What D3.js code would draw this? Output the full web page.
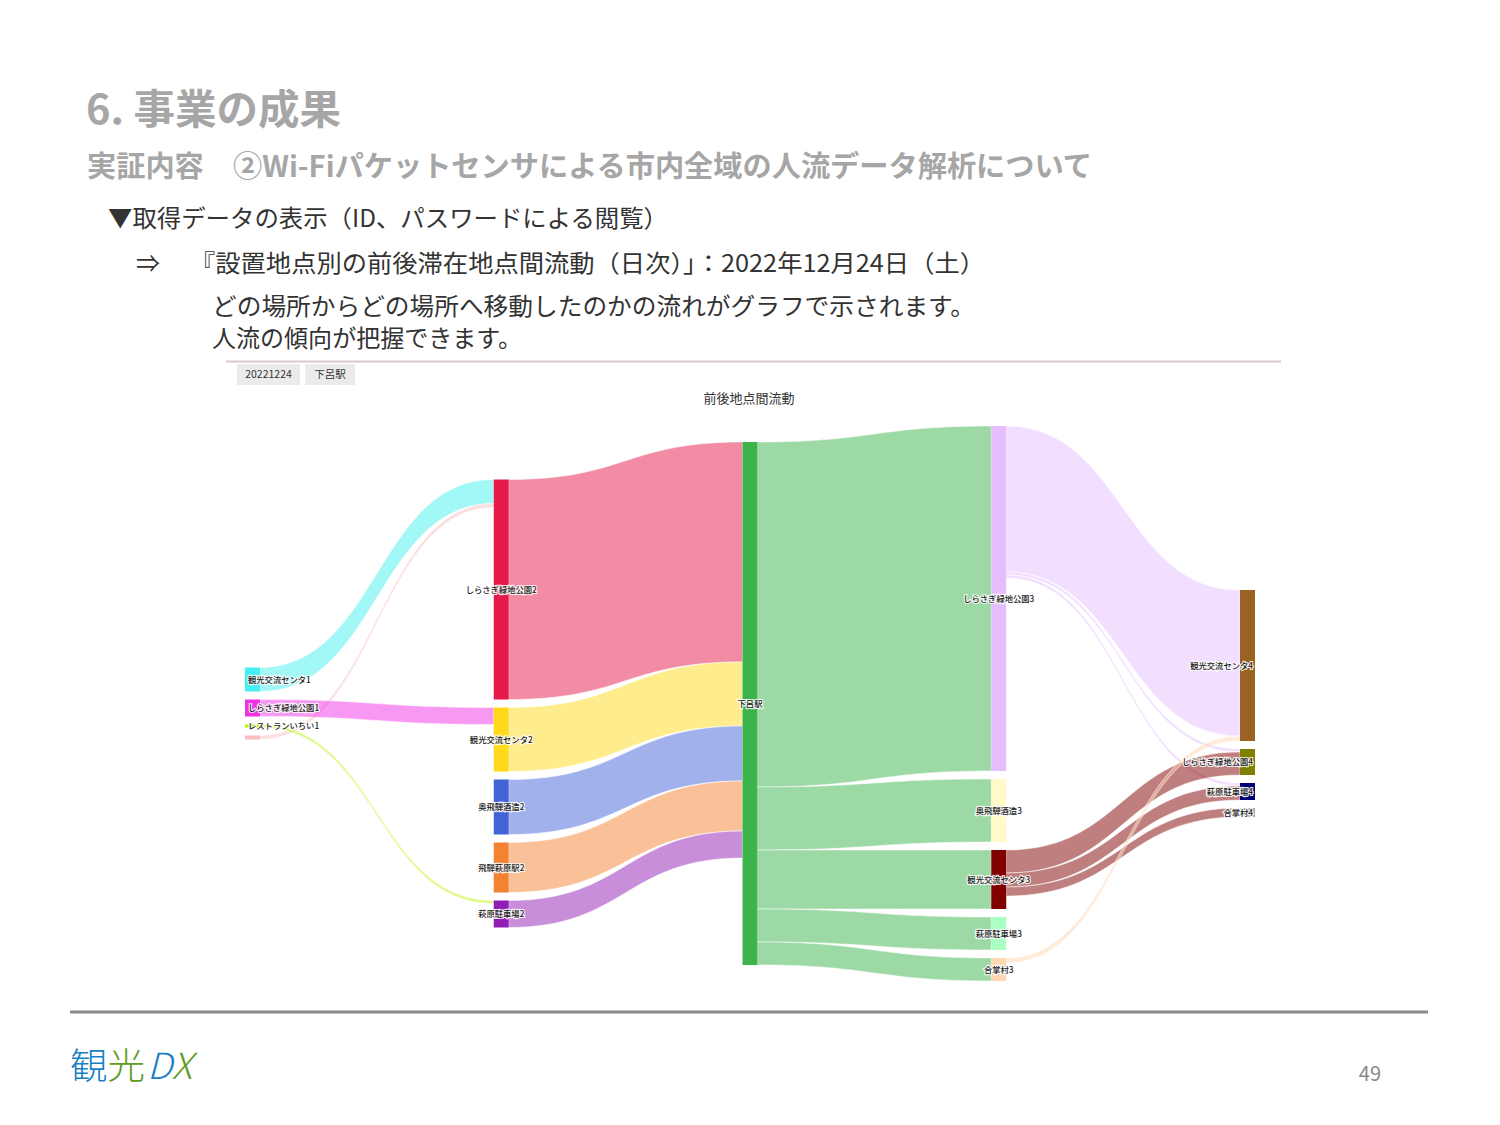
<!DOCTYPE html>
<html>
<head>
<meta charset="utf-8">
<title>前後地点間流動</title>
<script src="https://cdn.jsdelivr.net/npm/d3@7"></script>
<style>
    body { margin: 0; background: #fff; }
    svg { display: block; font-family: "Noto Sans CJK JP", "Noto Sans", sans-serif; }
    .node-label {
        font-size: 8.3px;
        font-weight: 500;
        fill: #1a1a1a;
        stroke: #fff;
        stroke-width: 2.2px;
        stroke-opacity: 0.9;
        paint-order: stroke;
    }
</style>
</head>
<body>
<svg id="slide"></svg>
<script>
// nodes (label / colour / column), in plotly order
const nodeLabels = [
    "観光交流センタ1", "しらさぎ緑地公園1", "レストランいちい1", "",
    "しらさぎ緑地公園2", "観光交流センタ2", "奥飛騨酒造2", "飛騨萩原駅2", "萩原駐車場2",
    "下呂駅",
    "しらさぎ緑地公園3", "奥飛騨酒造3", "観光交流センタ3", "萩原駐車場3", "合掌村3",
    "観光交流センタ4", "しらさぎ緑地公園4", "萩原駐車場4", "合掌村4"
];
const nodeColumns = [0, 0, 0, 0, 1, 1, 1, 1, 1, 2, 3, 3, 3, 3, 3, 4, 4, 4, 4];
const nodeColors = [
    "#46f0f0", "#f032e6", "#bcf60c", "#fabebe",
    "#e6194b", "#ffd91a", "#4363d8", "#f58231", "#911eb4",
    "#3cb44b",
    "#e6beff", "#fffac8", "#800000", "#aaffc3", "#ffd8b1",
    "#9a6324", "#808000", "#000075", "#a9a9a9"
];

// links
const linkSources = [0, 3, 1, 2, 4, 5, 6, 7, 8, 9, 9, 9, 9, 9, 10, 10, 10, 12, 12, 12, 14];
const linkTargets = [4, 4, 5, 8, 9, 9, 9, 9, 9, 10, 11, 12, 13, 14, 15, 16, 17, 16, 17, 18, 15];
const linkValues  = [48, 8, 34, 6, 440, 128, 110, 100, 54, 690, 126, 118, 66, 46, 292, 6, 6, 46, 28, 18, 10];

const tabLabels = ["20221224", "下呂駅"];
const chartTitle = "前後地点間流動";

const W = 1500, H = 1125;
const svg = d3.select("#slide").attr("width", W).attr("height", H);

// ---- slide header text
svg.append("text").attr("x", 86).attr("y", 124)
    .attr("textLength", 255).attr("lengthAdjust", "spacingAndGlyphs")
    .style("font-size", "41px").style("font-weight", 700).attr("fill", "#a6a6a6")
    .text("6. 事業の成果");
svg.append("text").attr("x", 87).attr("y", 177)
    .attr("textLength", 1005).attr("lengthAdjust", "spacingAndGlyphs")
    .style("font-size", "29px").style("font-weight", 700).attr("fill", "#a6a6a6")
    .text("実証内容　②Wi-Fiパケットセンサによる市内全域の人流データ解析について");

let body = [
    { x: 108, y: 227, w: 560, t: "▼取得データの表示（ID、パスワードによる閲覧）" },
    { x: 136, y: 272, w: 0, t: "⇒" },
    { x: 190, y: 272, w: 795, t: "『設置地点別の前後滞在地点間流動（日次）」：2022年12月24日（土）" },
    { x: 212, y: 315, w: 763, t: "どの場所からどの場所へ移動したのかの流れがグラフで示されます。" },
    { x: 212, y: 347, w: 310, t: "人流の傾向が把握できます。" }
];
svg.selectAll(".body").data(body).enter().append("text")
    .attr("class", "body")
    .attr("x", d => d.x).attr("y", d => d.y)
    .style("font-size", "24px").attr("fill", "#333")
    .text(d => d.t)
    .each(function(d) {
        if (d.w) d3.select(this).attr("textLength", d.w).attr("lengthAdjust", "spacingAndGlyphs");
    });

// ---- chart frame
svg.append("line").attr("x1", 226).attr("x2", 1281).attr("y1", 361.5).attr("y2", 361.5)
    .attr("stroke", "#dccaca").attr("stroke-width", 2);

let tabX = 237;
tabLabels.forEach((t, i) => {
    let w = i == 0 ? 63 : 50;
    svg.append("rect").attr("x", tabX).attr("y", 364).attr("width", w).attr("height", 21).attr("fill", "#ebebeb");
    svg.append("text").attr("x", tabX + w / 2).attr("y", 378).attr("text-anchor", "middle")
        .style("font-size", "10.5px").attr("fill", "#333").text(t);
    tabX += w + 5;
});

svg.append("text").attr("x", 749).attr("y", 403).attr("text-anchor", "middle")
    .style("font-size", "13px").attr("fill", "#333").text(chartTitle);

// ---- sankey layout (simple: columns centred, nodes stacked)
const plotTop = 426, plotBottom = 981, nodeW = 15, pad = 8;

let nodes = nodeLabels.map((l, i) => ({ i: i, label: l, color: nodeColors[i], depth: nodeColumns[i], sourceLinks: [], targetLinks: [] }));
let links = linkSources.map((s, i) => ({ source: nodes[s], target: nodes[linkTargets[i]], value: linkValues[i] }));
links.forEach(l => { l.source.sourceLinks.push(l); l.target.targetLinks.push(l); });

nodes.forEach(n => {
    n.value = Math.max(d3.sum(n.sourceLinks, l => l.value), d3.sum(n.targetLinks, l => l.value));
});

let columns = d3.groups(nodes, n => n.depth).sort((a, b) => a[0] - b[0]).map(d => d[1]);
let x = d3.scaleLinear().domain([0, columns.length - 1]).range([245, 1240]);
let ky = d3.min(columns, c => (plotBottom - plotTop - (c.length - 1) * pad) / d3.sum(c, n => n.value));
let y = d3.scaleLinear().domain([0, 1]).range([0, ky]);

columns.forEach(col => {
    let total = d3.sum(col, n => y(n.value)) + (col.length - 1) * pad;
    let y0 = (plotTop + plotBottom) / 2 - total / 2;
    col.forEach(n => {
        n.x0 = x(n.depth); n.x1 = n.x0 + nodeW;
        n.y0 = y0; n.y1 = y0 + y(n.value);
        y0 = n.y1 + pad;
    });
});

nodes.forEach(n => {
    n.sourceLinks.sort((a, b) => a.target.y0 - b.target.y0);
    n.targetLinks.sort((a, b) => a.source.y0 - b.source.y0);
    let sy = n.y0;
    n.sourceLinks.forEach(l => { l.sy0 = sy; sy += y(l.value); l.sy1 = sy; });
    let ty = n.y0;
    n.targetLinks.forEach(l => { l.ty0 = ty; ty += y(l.value); l.ty1 = ty; });
});

function ribbon(l) {
    let x0 = l.source.x1, x1 = l.target.x0, xm = (x0 + x1) / 2;
    let p = d3.path();
    p.moveTo(x0, l.sy0);
    p.bezierCurveTo(xm, l.sy0, xm, l.ty0, x1, l.ty0);
    p.lineTo(x1, l.ty1);
    p.bezierCurveTo(xm, l.ty1, xm, l.sy1, x0, l.sy1);
    p.closePath();
    return p.toString();
}

svg.append("g").selectAll(".link")
    .data(links)
    .enter()
    .append("path")
    .attr("class", "link")
    .attr("d", ribbon)
    .attr("fill", d => d.source.color)
    .attr("fill-opacity", 0.5)
    .attr("stroke", "#fff")
    .attr("stroke-width", 0.5);

svg.append("g").selectAll(".node")
    .data(nodes)
    .enter()
    .append("rect")
    .attr("class", "node")
    .attr("x", d => d.x0)
    .attr("y", d => d.y0)
    .attr("width", nodeW)
    .attr("height", d => Math.max(1, d.y1 - d.y0))
    .attr("fill", d => d.color);

// labels centred on node, kept inside the plot
let minX = x(0) + 3, maxX = x(columns.length - 1) + nodeW - 2;
svg.append("g").selectAll(".node-label")
    .data(nodes.filter(n => n.label))
    .enter()
    .append("text")
    .attr("class", "node-label")
    .attr("y", d => (d.y0 + d.y1) / 2 + 3)
    .text(d => d.label)
    .each(function(d) {
        let w = this.getComputedTextLength();
        let lx = (d.x0 + d.x1) / 2 - w / 2;
        lx = Math.max(minX, Math.min(maxX - w, lx));
        d3.select(this).attr("x", lx);
    });

// ---- footer
svg.append("line").attr("x1", 70).attr("x2", 1428).attr("y1", 1012).attr("y2", 1012)
    .attr("stroke", "#8a8a8a").attr("stroke-width", 3);

let logo = svg.append("text").attr("x", 70).attr("y", 1079)
    .attr("textLength", 122).attr("lengthAdjust", "spacingAndGlyphs")
    .style("font-size", "36px").style("font-weight", 300);
logo.append("tspan").attr("fill", "#1a80c4").text("観");
logo.append("tspan").attr("fill", "#5f9a22").text("光");
logo.append("tspan").attr("fill", "#1a80c4").style("font-style", "italic").attr("dx", 2).text("D");
logo.append("tspan").attr("fill", "#5f9a22").style("font-style", "italic").text("X");

svg.append("text").attr("x", 1381).attr("y", 1081).attr("text-anchor", "end")
    .style("font-size", "20px").attr("fill", "#8a8a8a").text("49");
</script>
</body>
</html>
